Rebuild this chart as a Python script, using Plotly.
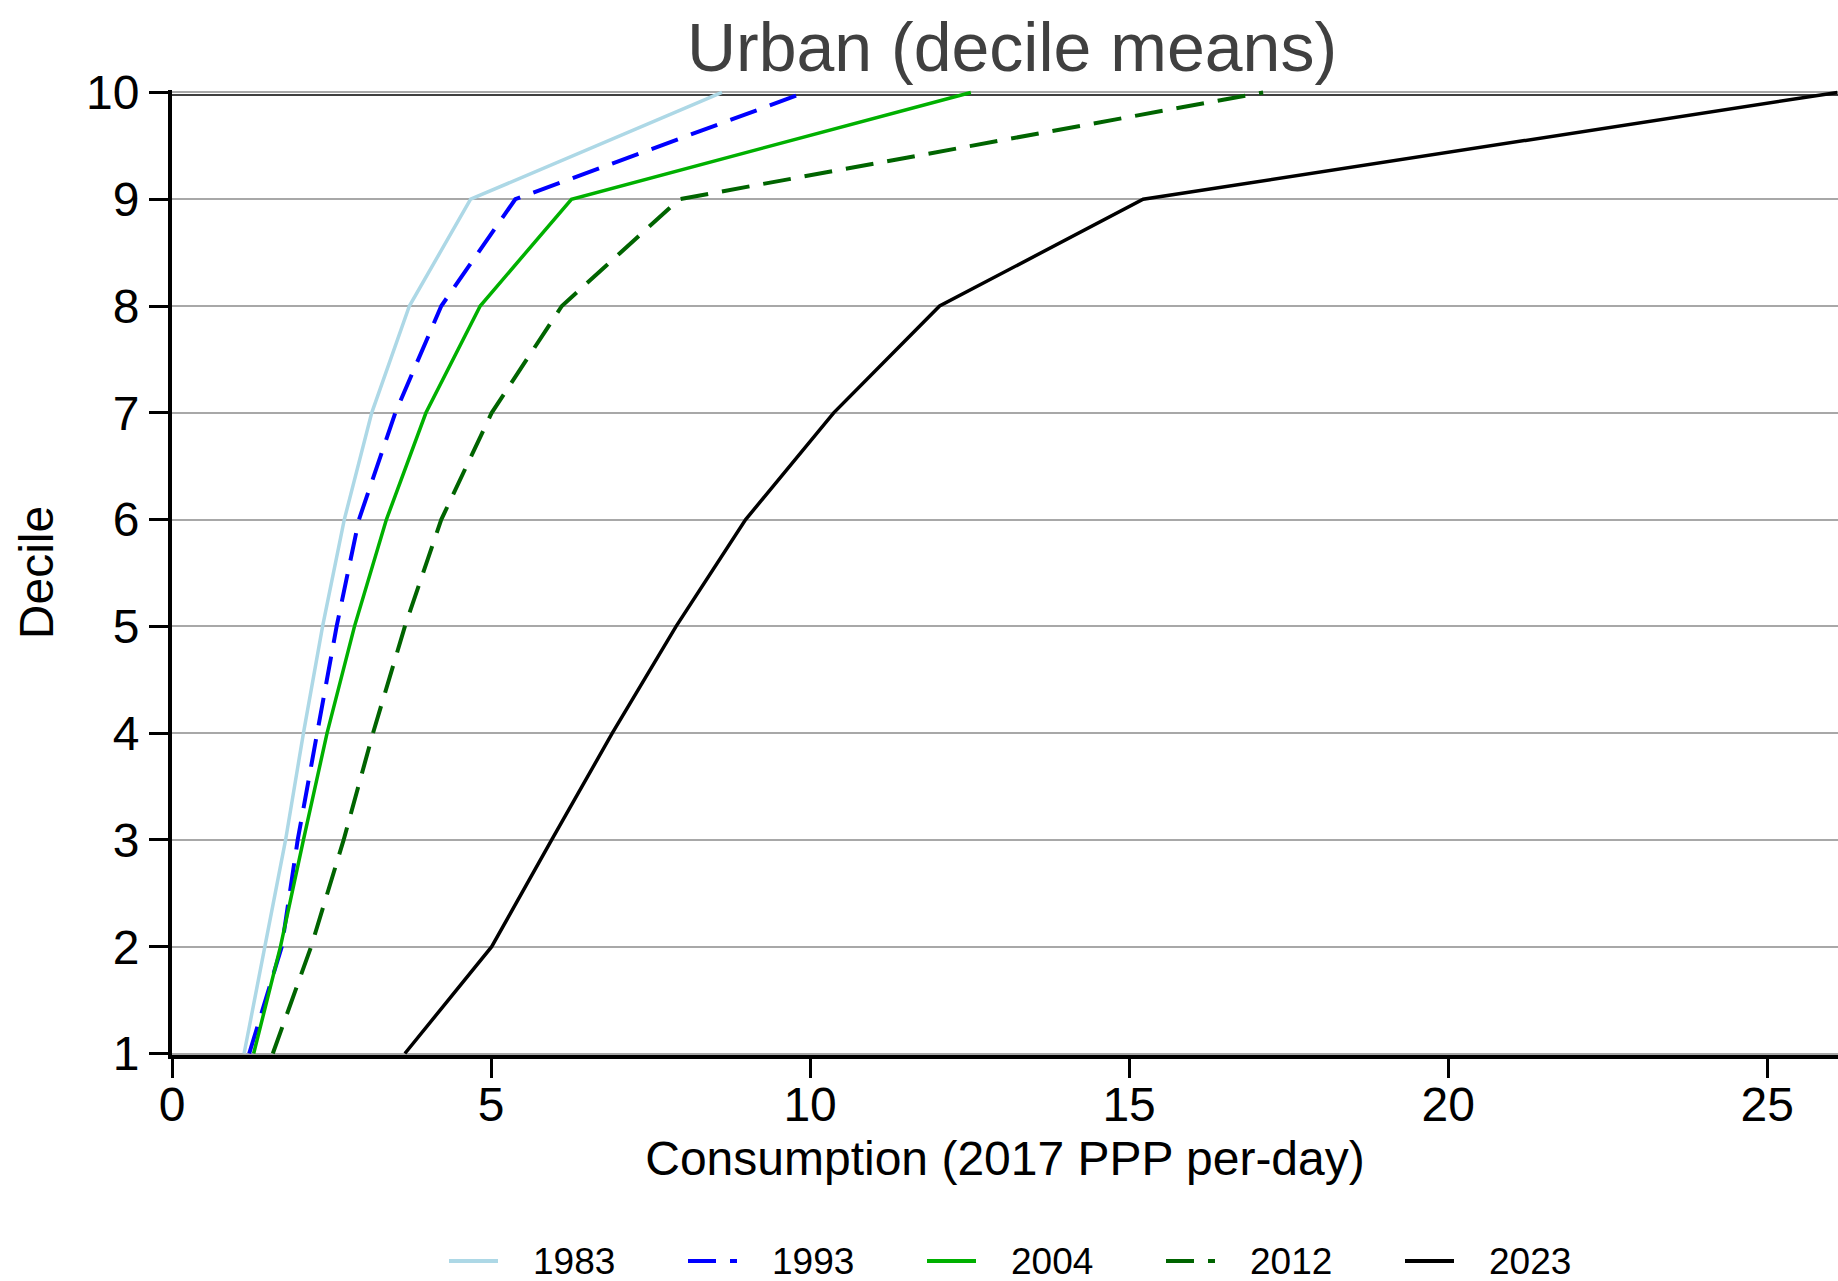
import plotly.graph_objects as go

# Decile means of urban per-capita consumption (2017 PPP $ per day)
deciles = [1, 2, 3, 4, 5, 6, 7, 8, 9, 10]
years = ["1983", "1993", "2004", "2012", "2023"]
cons_1983 = [1.13, 1.45, 1.78, 2.06, 2.36, 2.70, 3.13, 3.72, 4.68, 8.62]
cons_1993 = [1.21, 1.72, 1.97, 2.27, 2.58, 2.93, 3.50, 4.22, 5.38, 9.92]
cons_2004 = [1.28, 1.70, 2.06, 2.43, 2.86, 3.36, 3.98, 4.83, 6.26, 12.52]
cons_2012 = [1.58, 2.18, 2.69, 3.15, 3.65, 4.22, 5.01, 6.11, 7.95, 17.10]
cons_2023 = [3.65, 5.01, 5.95, 6.90, 7.90, 8.99, 10.37, 12.03, 15.22, 26.10]
x_ticks = [0, 5, 10, 15, 20, 25]

series = [cons_1983, cons_1993, cons_2004, cons_2012, cons_2023]
colors = ["#ADD8E6", "#0000FF", "#00B000", "#006400", "#000000"]
dashes = ["solid", "28px,14px", "solid", "28px,14px", "solid"]
widths = [3.5, 4, 3.5, 4, 3.5]

FONT = "Liberation Sans, Arial, Helvetica, sans-serif"

# figure / plot-area geometry in pixels
W, H = 1838, 1281
PLOT_L, PLOT_T, PLOT_B = 172, 90, 1055
PLOT_W, PLOT_H = W - PLOT_L, PLOT_B - PLOT_T


def px_x(px):
    return (px - PLOT_L) / PLOT_W


def px_y(py):
    return (PLOT_B - py) / PLOT_H


fig = go.Figure()
for name, vals, col, dash, w in zip(years, series, colors, dashes, widths):
    fig.add_trace(go.Scatter(
        x=vals, y=deciles, mode="lines", name=name,
        line=dict(color=col, width=w, dash=dash),
    ))

# thin frame line along the top of the plot region
fig.add_shape(type="line", xref="paper", x0=0, x1=1, yref="y", y0=9.977, y1=9.977,
              line=dict(color="black", width=1.5), layer="between")

# key row below the x-axis title: line sample followed by the year
KEY_LEFT, KEY_STEP, KEY_SAMPLE, KEY_TEXT_GAP, KEY_Y = 449, 239, 49, 82, 1261
for i, (name, col, dash) in enumerate(zip(years, colors, dashes)):
    x0 = KEY_LEFT + i * KEY_STEP
    fig.add_shape(type="line", xref="paper", yref="paper",
                  x0=px_x(x0), x1=px_x(x0 + KEY_SAMPLE), y0=px_y(KEY_Y), y1=px_y(KEY_Y),
                  line=dict(color=col, width=4, dash=dash))
    fig.add_annotation(text=name, xref="paper", yref="paper",
                       x=px_x(x0 + KEY_TEXT_GAP), y=px_y(KEY_Y),
                       xanchor="left", yanchor="middle", showarrow=False,
                       font=dict(size=37, family=FONT, color="black"))

fig.update_layout(
    width=W, height=H,
    margin=dict(l=PLOT_L, r=0, t=PLOT_T, b=H - PLOT_B, pad=0),
    paper_bgcolor="white", plot_bgcolor="white",
    font=dict(family=FONT, color="black"),
    title=dict(text="Urban (decile means)", font=dict(size=68, color="#404040", family=FONT),
               x=1012 / W, xanchor="center", xref="container",
               y=1 - 47 / H, yanchor="middle", yref="container"),
    showlegend=False,
    xaxis=dict(range=[0, 26.11], tickvals=x_ticks, ticks="outside", ticklen=19, tickwidth=3,
               tickcolor="black", showline=True, linewidth=4, linecolor="black",
               showgrid=False, zeroline=False, tickfont=dict(size=48), ticklabelstandoff=-15,
               title=dict(text="Consumption (2017 PPP per-day)", font=dict(size=48), standoff=13)),
    yaxis=dict(range=[0.986, 10.023], tickvals=deciles, ticks="outside", ticklen=19, tickwidth=3,
               tickcolor="black", showline=True, linewidth=4, linecolor="black",
               showgrid=True, gridcolor="#A8A8A8", gridwidth=2, zeroline=False,
               tickfont=dict(size=48),
               title=dict(text="Decile", font=dict(size=48), standoff=18)),
)

fig.write_html("out.html")
